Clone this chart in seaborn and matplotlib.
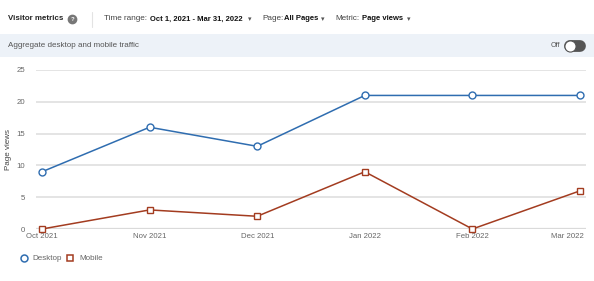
import pandas as pd
import matplotlib.pyplot as plt
import matplotlib.transforms as mtransforms
import seaborn as sns
from matplotlib.patches import Rectangle

months = ["Oct 2021", "Nov 2021", "Dec 2021", "Jan 2022", "Feb 2022", "Mar 2022"]
desktop = [9, 16, 13, 21, 21, 21]
mobile = [0, 3, 2, 9, 0, 6]
y_ticks = [0, 5, 10, 15, 20, 25]

blue = "#2f6db0"
red = "#a33c20"
grey_txt = "#666666"

sns.set_theme(style="white")
plt.rcParams["font.family"] = ["Liberation Sans", "DejaVu Sans"]

df = pd.DataFrame({
    "month": months * 2,
    "idx": list(range(len(months))) * 2,
    "views": desktop + mobile,
    "device": ["Desktop"] * len(months) + ["Mobile"] * len(months),
})

fig = plt.figure(figsize=(5.94, 2.81), dpi=100)
W, H = 594, 281

def fx(px):
    return px / W

def fy(py):
    return 1 - py / H

# header
hs = 5.9
vs = 5.5
fig.text(fx(8), fy(19), "Visitor metrics", fontsize=5.7, fontweight="bold", color="#222222", va="center")
fig.add_artist(plt.Line2D([fx(72)], [fy(19)], marker="o", markersize=6.0, color="#777777", ls="none"))
fig.text(fx(72), fy(19.2), "?", fontsize=4.3, color="white", ha="center", va="center", fontweight="bold")
fig.add_artist(plt.Line2D([fx(92), fx(92)], [fy(12), fy(27)], color="#e3e3e3", lw=0.8))
fig.text(fx(104), fy(19), "Time range:", fontsize=hs, color="#444444", va="center")
fig.text(fx(150), fy(19), "Oct 1, 2021 - Mar 31, 2022", fontsize=vs, color="#111111", va="center",
         fontweight="bold")
fig.text(fx(250), fy(19), "\u25BE", fontsize=5, color="#555555", va="center", ha="center", family="DejaVu Sans")
fig.text(fx(262), fy(19), "Page:", fontsize=hs, color="#444444", va="center")
fig.text(fx(284), fy(19), "All Pages", fontsize=vs, color="#111111", va="center", fontweight="bold")
fig.text(fx(323), fy(19), "\u25BE", fontsize=5, color="#555555", va="center", ha="center", family="DejaVu Sans")
fig.text(fx(335), fy(19), "Metric:", fontsize=hs, color="#444444", va="center")
fig.text(fx(362), fy(19), "Page views", fontsize=vs, color="#111111", va="center", fontweight="bold")
fig.text(fx(409), fy(19), "\u25BE", fontsize=5, color="#555555", va="center", ha="center", family="DejaVu Sans")

# blue band
fig.patches.append(Rectangle((0, fy(57)), 1, (57 - 34) / H, transform=fig.transFigure,
                             facecolor="#edf2f8", edgecolor="none", figure=fig))
fig.text(fx(8), fy(45.5), "Aggregate desktop and mobile traffic", fontsize=5.8, color="#555555", va="center")
fig.text(fx(551), fy(45.5), "Off", fontsize=5.2, color="#555555", va="center")
fig.add_artist(plt.Line2D([fx(570), fx(580)], [fy(45.5), fy(45.5)], color="#555555", lw=8.5,
                          solid_capstyle="round"))
fig.add_artist(plt.Line2D([fx(570)], [fy(45.5)], marker="o", markersize=8, markerfacecolor="white",
                          markeredgecolor="#555555", markeredgewidth=0.8, ls="none"))

# plot area
left_px, right_px = 36, 586
x0_px, x5_px = 42, 580
ppu = (x5_px - x0_px) / 5
ax = fig.add_axes([fx(left_px), fy(229), (right_px - left_px) / W, (229 - 70) / H])

sns.lineplot(data=df, x="idx", y="views", hue="device", style="device",
             palette={"Desktop": blue, "Mobile": red},
             markers={"Desktop": "o", "Mobile": "s"}, dashes=False,
             markersize=5, linewidth=1.1, ax=ax, legend=False, clip_on=False, zorder=3)
for line in ax.lines:
    line.set_markerfacecolor("white")
    line.set_markeredgecolor(line.get_color())
    line.set_markeredgewidth(1.0)

ax.set_xlim(-(x0_px - left_px) / ppu, 5 + (right_px - x5_px) / ppu)
ax.set_ylim(0, 25)
ax.set_yticks(y_ticks)
ax.set_xticks(range(len(months)))
ax.set_xticklabels(months)
ax.grid(axis="y", color="#e2e2e2", lw=1.3)
ax.set_axisbelow(True)
for s in ax.spines.values():
    s.set_visible(False)
ax.axhline(0, color="#dadada", lw=1.6, zorder=1)
ax.tick_params(axis="both", length=0, labelsize=5.6, labelcolor=grey_txt)
ax.tick_params(axis="x", pad=3)
ax.tick_params(axis="y", pad=8)
last = ax.get_xticklabels()[-1]
last.set_horizontalalignment("right")
last.set_transform(last.get_transform() + mtransforms.ScaledTranslation(4 / 100, 0, fig.dpi_scale_trans))
ax.set_xlabel("")
ax.set_ylabel("Page views", fontsize=5.8, color="#444444", labelpad=3)

# legend
fig.add_artist(plt.Line2D([fx(24)], [fy(258)], marker="o", markersize=5, markerfacecolor="white",
                          markeredgecolor=blue, markeredgewidth=1.1, ls="none"))
fig.text(fx(32), fy(258), "Desktop", fontsize=5.8, color=grey_txt, va="center")
fig.add_artist(plt.Line2D([fx(70)], [fy(258)], marker="s", markersize=5, markerfacecolor="white",
                          markeredgecolor=red, markeredgewidth=1.1, ls="none"))
fig.text(fx(79), fy(258), "Mobile", fontsize=5.8, color=grey_txt, va="center")

fig.savefig("out.png", dpi=100, facecolor="white")
